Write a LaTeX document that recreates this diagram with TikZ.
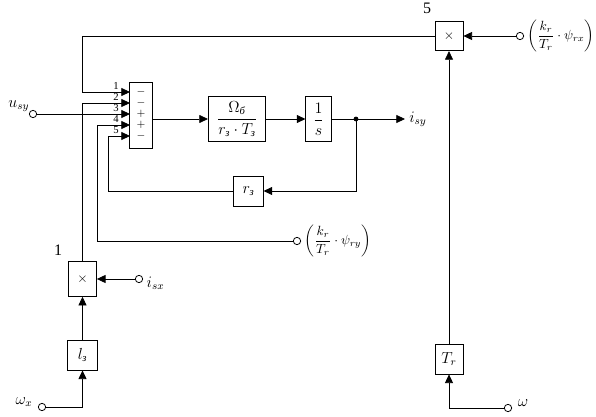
\documentclass[tikz,border=0pt]{standalone}
\usepackage{amsmath}
\usepackage{fontspec}
\setmainfont{Liberation Serif}
\usetikzlibrary{arrows.meta}
\newcommand{\cz}{\text{\itshape з}}
\newcommand{\cb}{\text{\itshape б}}
\tikzset{
  arr/.style={-{Triangle[length=6.5pt,width=6pt]}},
  blk/.style={draw, fill=white, inner sep=1pt, font=\large},
  mul/.style={draw, fill=white, minimum width=21pt, minimum height=22pt, inner sep=0pt},
  port/.style={draw, circle, fill=white, minimum size=5.5pt, inner sep=0pt},
  num/.style={font=\large, inner sep=1pt},
  lbl/.style={font=\large, inner sep=1pt}
}
\begin{document}
\begin{tikzpicture}[x=0.75pt, y=-0.75pt, line width=0.6pt]
		\useasboundingbox (0,0) rectangle (596,417);
		% summator
		\node[draw, fill=white, minimum width=17pt, minimum height=50pt] (sum) at (141,115.5) {};
		\foreach \i/\yy/\sg in {1/92/$-$, 2/103/$-$, 3/114/$+$, 4/125/$+$, 5/136/$-$} {
			\coordinate (s\i) at (130,\yy);
			\node[inner sep=0pt, text height=3.5pt, text depth=0pt, font=\footnotesize] at (141,\yy) {\sg};
			\node[inner sep=0pt, text height=5pt, text depth=0pt, font=\footnotesize] at (116,\yy-5.5) {\i};
		}
		% forward chain
		\node[blk, minimum width=43pt, minimum height=34pt] (omega) at (237,119)
			{$\dfrac{\Omega_{\cb}}{r_{\cz}\cdot T_{\cz}}$};
		\node[blk, minimum width=19pt, minimum height=34pt] (integ) at (318.5,119)
			{$\dfrac{1}{s}$};
		\coordinate (dot) at (356,119);
		\coordinate (out) at (405,119);
		\node[lbl, anchor=west, inner sep=3pt] (isy) at (out) {$i_{sy}$};
		\fill (dot) circle (1.8pt);
		% feedback
		\node[blk, minimum width=22pt, minimum height=22.5pt] (rz) at (248.5,191) {$r_{\cz}$};
		\coordinate (fb) at (108,191);
		% multipliers
		\node[mul] (mul5) at (449,36) {$\times$};
		\node[num] at (427,8) {5};
		\node[mul, minimum height=26pt] (mul1) at (82.5,279) {$\times$};
		\node[num] at (58,250) {1};
		\node[blk, minimum width=22pt, minimum height=22.5pt] (lz) at (82.5,355) {$l_{\cz}$};
		\node[blk, minimum width=21pt, minimum height=22.5pt] (Tr) at (449,359) {$T_r$};
		% ports
		\node[port] (usy) at (33,114) {};
		\node[lbl, anchor=east] at (31,106) {$u_{sy}$};
		\node[port] (isx) at (139,279) {};
		\node[lbl, anchor=west] at (145,283) {$i_{sx}$};
		\node[port] (psiry) at (297,241) {};
		\node[anchor=west, inner sep=1pt] at (303,241) {$\left(\dfrac{k_r}{T_r}\cdot\psi_{ry}\right)$};
		\node[port] (psirx) at (520,36) {};
		\node[anchor=west, inner sep=1pt] at (526,36) {$\left(\dfrac{k_r}{T_r}\cdot\psi_{rx}\right)$};
		\node[port] (omx) at (42,407) {};
		\node[lbl] at (24,402) {$\omega_x$};
		\node[port] (om) at (508,408) {};
		\node[lbl] at (523,403) {$\omega$};
		% connections
		\draw[arr] (mul5.west) -| (mul1.north |- s1) -- (s1);
		\draw[arr] (mul1.north) |- (s2);
		\draw[arr] (usy) -- (s3);
		\draw[arr] (psiry) -| (mul1.east |- s4) -- (s4);
		\draw[arr] (rz.west) -| (fb |- s5) -- (s5);
		\draw[arr] (sum.east |- omega) -- (omega.west);
		\draw[arr] (omega) -- (integ);
		\draw[arr] (integ) -- (out);
		\draw[arr] (dot) |- (rz.east);
		\draw[arr] (isx) -- (mul1.east |- isx);
		\draw[arr] (lz) -- (mul1);
		\draw[arr] (omx) -| (lz.south);
		\draw[arr] (om) -| (Tr.south);
		\draw[arr] (Tr) -- (mul5);
		\draw[arr] (psirx) -- (mul5);
		\end{tikzpicture}
\end{document}
